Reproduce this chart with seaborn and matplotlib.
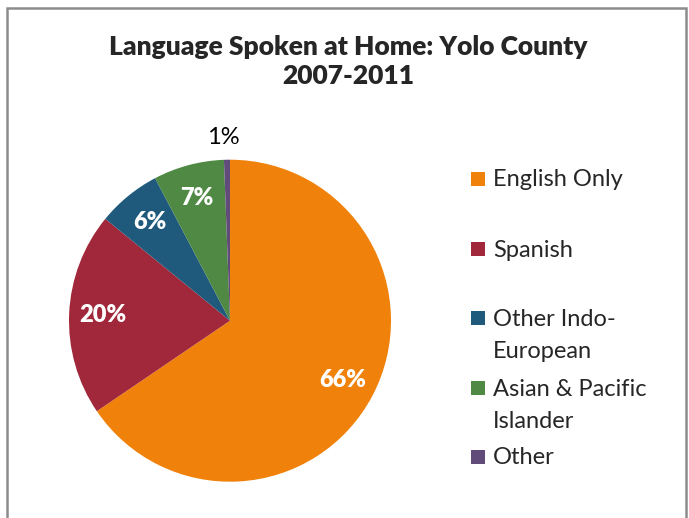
import numpy as np
import matplotlib
matplotlib.use("Agg")
import matplotlib.pyplot as plt
from matplotlib.patches import Rectangle
import seaborn as sns

# Language spoken at home, Yolo County 2007-2011 (share of population, %)
categories = ["English Only", "Spanish", "Other Indo-\nEuropean",
              "Asian & Pacific\nIslander", "Other"]
shares = [65.5, 20.4, 6.4, 7.1, 0.6]
colors = ["#F0820C", "#A0283A", "#1F5A7C", "#4F8944", "#614B7A"]

TITLE = "Language Spoken at Home: Yolo County\n2007-2011"

W, H = 689, 518

sns.set_theme(style="white")
plt.rcParams["font.family"] = ["Lato", "DejaVu Sans"]

fig = plt.figure(figsize=(W / 100, H / 100), dpi=100)

# pie axes (pixel box of the pie, radius 161 px)
ax = fig.add_axes([69 / W, 36.3 / H, 322 / W, 322 / H])

wedges, texts, autotexts = ax.pie(
    shares,
    colors=colors,
    startangle=90,
    counterclock=False,
    autopct="%1.0f%%",
    pctdistance=0.79,
    wedgeprops={"linewidth": 0},
    textprops={"fontsize": 17, "color": "white", "fontweight": "heavy"},
)
ax.set_xlim(-1, 1)
ax.set_ylim(-1, 1)
ax.axis("off")

# tiny slice: label outside the pie, plain black
w = wedges[-1]
mid = np.deg2rad((w.theta1 + w.theta2) / 2)
autotexts[-1].set_position((1.14 * np.cos(mid) - 0.02, 1.14 * np.sin(mid)))
autotexts[-1].set_color("black")
autotexts[-1].set_fontweight("normal")

# title, one line at a time
for line, base in zip(TITLE.split("\n"), [55, 84]):
    fig.text(348.5 / W, 1 - base / H, line, ha="center", va="baseline",
             fontsize=19, fontweight="heavy")

# legend, drawn entry by entry
first_line_y = [179, 249, 318, 388, 457]
for label, color, y in zip(categories, colors, first_line_y):
    fig.patches.append(Rectangle((471 / W, 1 - (y + 7) / H), 14 / W, 14 / H,
                                 transform=fig.transFigure, facecolor=color,
                                 edgecolor="none"))
    for k, line in enumerate(label.split("\n")):
        fig.text(493 / W, 1 - (y + 7.5 + 32 * k) / H, line, ha="left",
                 va="baseline", fontsize=17)

# chart border
fig.patches.append(Rectangle((7 / W, -0.1), 679 / W, 1.1 - 8 / H,
                             transform=fig.transFigure, facecolor="none",
                             edgecolor="#8C8C8C", linewidth=1.8))

fig.savefig("out.png", dpi=100)
